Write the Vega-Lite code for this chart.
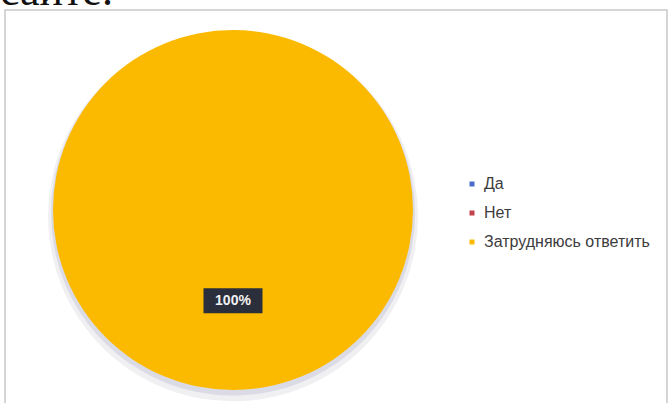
{
  "$schema": "https://vega.github.io/schema/vega-lite/v6.json",
  "width": 662,
  "height": 396,
  "autosize": {"type": "none"},
  "padding": {"left": 5, "top": 10, "right": 3, "bottom": -3},
  "background": "white",
  "config": {
    "view": {"stroke": "#c9c9c9", "strokeWidth": 1.5},
    "font": "Liberation Sans"
  },
  "data": {
    "values": [
      {"answer": "Да", "share": 0},
      {"answer": "Нет", "share": 0},
      {"answer": "Затрудняюсь ответить", "share": 1}
    ]
  },
  "layer": [
    {
      "mark": {"type": "arc", "radius": 185, "theta": 0, "theta2": 6.2832, "color": "#a4a8c0", "opacity": 0.06},
      "encoding": {
        "x": {"datum": 0.3444, "type": "quantitative", "scale": {"domain": [0, 1], "nice": false, "zero": false}, "axis": null},
        "y": {"datum": 0.479, "type": "quantitative", "scale": {"domain": [0, 1], "nice": false, "zero": false}, "axis": null}
      }
    },
    {
      "mark": {"type": "arc", "radius": 182, "theta": 0, "theta2": 6.2832, "color": "#a4a8c0", "opacity": 0.1},
      "encoding": {
        "x": {"datum": 0.3444, "type": "quantitative"},
        "y": {"datum": 0.486, "type": "quantitative"}
      }
    },
    {
      "mark": {"type": "arc", "radius": 180},
      "encoding": {
        "x": {"datum": 0.3444, "type": "quantitative"},
        "y": {"datum": 0.495, "type": "quantitative"},
        "theta": {"field": "share", "type": "quantitative", "stack": true},
        "order": {"field": "share", "sort": "ascending"},
        "color": {
          "field": "answer",
          "type": "nominal",
          "scale": {"domain": ["Да", "Нет", "Затрудняюсь ответить"], "range": ["#4a6bc8", "#c4424c", "#fbba00"]},
          "legend": {
            "title": null,
            "orient": "none",
            "legendX": 459,
            "legendY": 166,
            "symbolType": "square",
            "symbolSize": 25,
            "symbolStrokeWidth": 0,
            "labelFont": "Liberation Sans",
            "labelFontSize": 16,
            "labelColor": "#3c3c3c",
            "labelOffset": 4,
            "labelLimit": 400,
            "rowPadding": 13
          }
        }
      }
    },
    {
      "transform": [{"filter": "datum.share > 0"}],
      "mark": {"type": "point", "filled": true, "shape": "M-1,-0.424H1V0.424H-1Z", "size": 3481, "color": "#2b2e3b", "opacity": 1},
      "encoding": {
        "x": {"datum": 0.3444, "type": "quantitative"},
        "y": {"datum": 0.266, "type": "quantitative"}
      }
    },
    {
      "transform": [{"filter": "datum.share > 0"}],
      "mark": {"type": "text", "font": "Liberation Sans", "fontSize": 14, "fontWeight": "bold", "color": "#f2f2f2", "align": "center", "baseline": "middle"},
      "encoding": {
        "x": {"datum": 0.3444, "type": "quantitative"},
        "y": {"datum": 0.266, "type": "quantitative"},
        "text": {"field": "share", "type": "quantitative", "format": ".0%"}
      }
    },
    {
      "data": {"values": [{"note": "сайте."}]},
      "mark": {"type": "text", "font": "Liberation Serif", "fontSize": 44, "color": "#111111", "align": "left", "baseline": "alphabetic", "dx": -5, "dy": -5, "clip": false},
      "encoding": {
        "x": {"datum": 0, "type": "quantitative"},
        "y": {"datum": 1, "type": "quantitative"},
        "text": {"field": "note", "type": "nominal"}
      }
    }
  ]
}
